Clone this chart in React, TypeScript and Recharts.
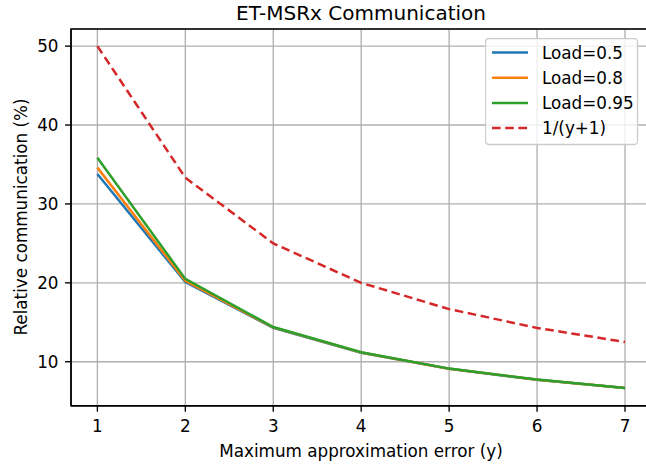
import React from 'react';
import { LineChart, Line, XAxis, YAxis, CartesianGrid, ReferenceArea } from 'recharts';

const errors = [1, 2, 3, 4, 5, 6, 7];
const load05 = [33.8, 20.1, 14.3, 11.15, 9.1, 7.72, 6.66];
const load08 = [34.6, 20.25, 14.35, 11.18, 9.12, 7.73, 6.67];
const load095 = [35.85, 20.5, 14.4, 11.2, 9.13, 7.74, 6.68];
const bound = [50, 33.33, 25, 20, 16.67, 14.29, 12.5];
const xTicks = [1, 2, 3, 4, 5, 6, 7];
const yTicks = [10, 20, 30, 40, 50];

const seriesInfo = [
  { key: 'l05', name: 'Load=0.5', color: '#1f77b4', dash: undefined as string | undefined },
  { key: 'l08', name: 'Load=0.8', color: '#ff7f0e', dash: undefined },
  { key: 'l095', name: 'Load=0.95', color: '#2ca02c', dash: undefined },
  { key: 'bound', name: '1/(y+1)', color: '#d62728', dash: '8.6 4.6' },
];

const data = errors.map((e, i) => ({
  x: e,
  l05: load05[i],
  l08: load08[i],
  l095: load095[i],
  bound: bound[i],
}));

const FONT = 'DejaVu Sans, sans-serif';
const FS = 16.8;
const LW = 2.5;
const X_DOMAIN: [number, number] = [0.7, 7.3];
const Y_DOMAIN: [number, number] = [4.43, 52.17];

const LegendBox = () => (
  <svg width={154} height={108} style={{ display: 'block' }}>
    <rect x={0.5} y={0.5} width={152} height={106} rx={3.5} ry={3.5} fill="rgba(255,255,255,0.8)" stroke="#cccccc" strokeWidth={1.3} />
    {seriesInfo.map((s, i) => {
      const cy = 14.5 + i * 25.2;
      return (
        <g key={s.key}>
          <line x1={7} x2={43} y1={cy} y2={cy} stroke={s.color} strokeWidth={LW} strokeDasharray={s.dash} />
          <text x={57} y={cy + 6} fontFamily={FONT} fontSize={FS} fill="#000">{s.name}</text>
        </g>
      );
    })}
  </svg>
);

export default function App() {
  return (
    <div style={{ position: 'absolute', left: 0, top: 0, width: 646, height: 464, overflow: 'hidden', background: '#fff' }}>
      <LineChart
        width={700}
        height={464}
        data={data}
        margin={{ top: 29, left: 21, right: 700 - 651.4, bottom: 0 }}
      >
        <CartesianGrid stroke="#b0b0b0" strokeWidth={1.35} vertical horizontal />
        <XAxis
          dataKey="x"
          type="number"
          domain={X_DOMAIN}
          ticks={xTicks}
          allowDataOverflow
          height={58.3}
          axisLine={{ stroke: '#000', strokeWidth: 1.35 }}
          tickLine={{ stroke: '#000', strokeWidth: 1.35 }}
          tickSize={6}
          tickMargin={8}
          tick={{ fontFamily: FONT, fontSize: FS, fill: '#000' }}
        />
        <YAxis
          type="number"
          domain={Y_DOMAIN}
          ticks={yTicks}
          allowDataOverflow
          width={50}
          axisLine={{ stroke: '#000', strokeWidth: 1.35 }}
          tickLine={{ stroke: '#000', strokeWidth: 1.35 }}
          tickSize={6}
          tickMargin={6.5}
          tick={{ fontFamily: FONT, fontSize: FS, fill: '#000' }}
        />
        <ReferenceArea x1={X_DOMAIN[0]} x2={X_DOMAIN[1]} y1={Y_DOMAIN[0]} y2={Y_DOMAIN[1]} fill="none" stroke="#000" strokeWidth={1.35} ifOverflow="visible" />
        {seriesInfo.map((s) => (
          <Line
            key={s.key}
            dataKey={s.key}
            name={s.name}
            stroke={s.color}
            strokeWidth={LW}
            strokeDasharray={s.dash}
            dot={false}
            activeDot={false}
            type="linear"
            isAnimationActive={false}
          />
        ))}
        <text x={361} y={20} textAnchor="middle" fontFamily={FONT} fontSize={20} fill="#000">ET-MSRx Communication</text>
        <text x={361} y={456.5} textAnchor="middle" fontFamily={FONT} fontSize={FS} fill="#000">Maximum approximation error (y)</text>
        <text x={0} y={0} transform="translate(26.5,217) rotate(-90)" textAnchor="middle" fontFamily={FONT} fontSize={FS} fill="#000">Relative communication (%)</text>
      </LineChart>
      <div style={{ position: 'absolute', left: 485, top: 38 }}>
        <LegendBox />
      </div>
    </div>
  );
}
